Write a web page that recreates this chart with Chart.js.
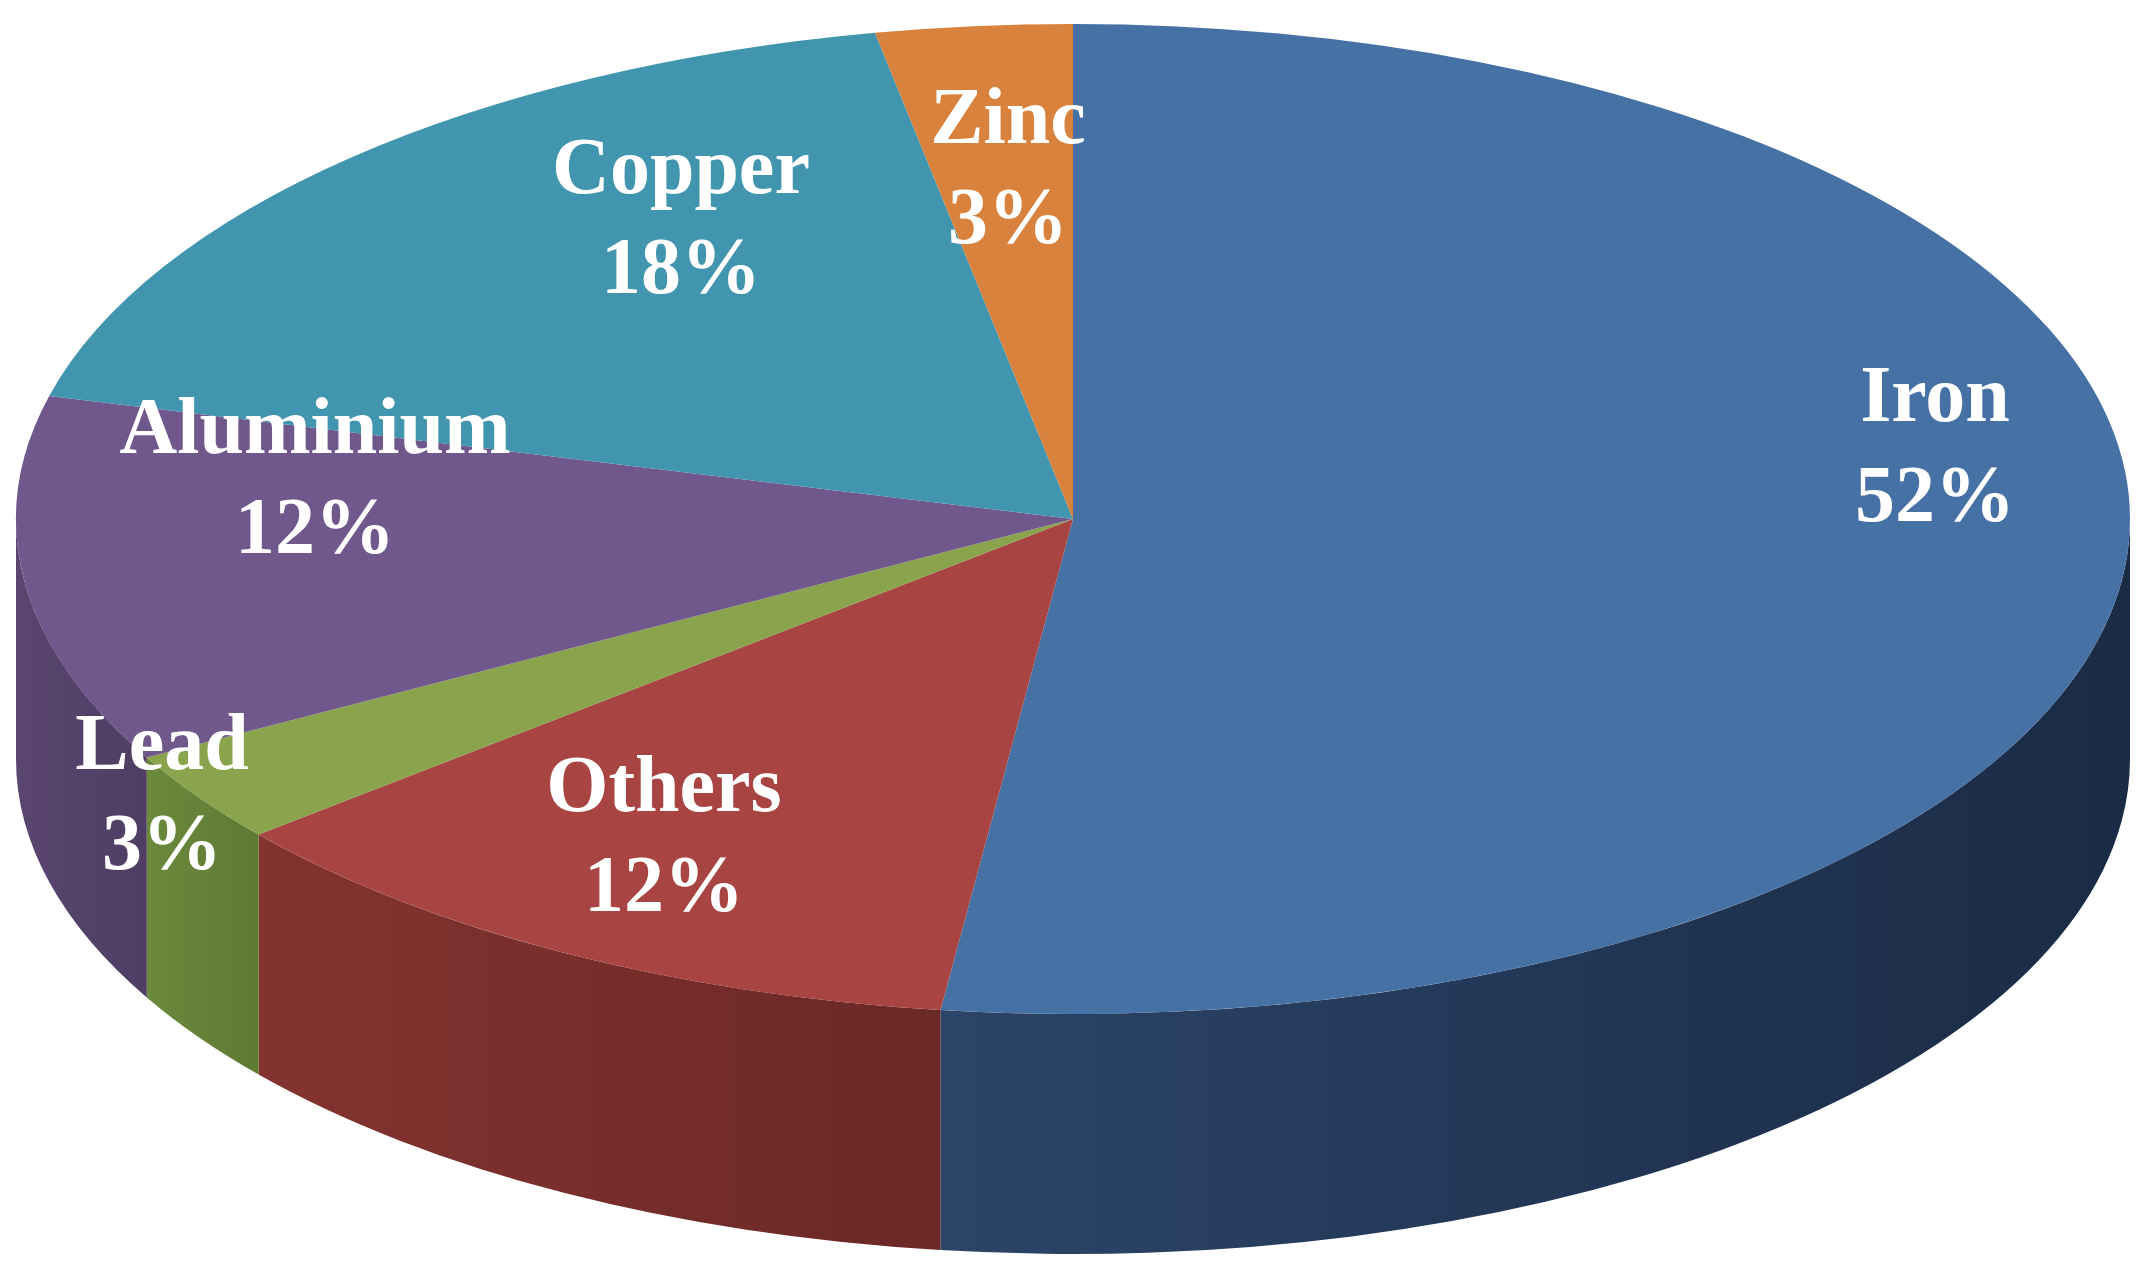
<!DOCTYPE html>
<html><head><meta charset="utf-8">
<script src="https://cdn.jsdelivr.net/npm/chart.js@4"></script>
<style>html,body{margin:0;padding:0;background:#fff;}canvas{display:block;}</style>
</head><body>
<canvas id="c" width="2148" height="1287"></canvas>
<script>
const categories = ["Iron","Others","Lead","Aluminium","Copper","Zinc"];
const values = [52,12,3,12,18,3];
const colors = ["#4671A5","#A84441","#89A44C","#70578C","#4195AE","#D9823D"];
const sideColors = [["#2b4468","#1a2b45"],["#83332f","#6a2826"],["#6b8a3c","#5e7a33"],["#5a4670","#4f3d63"],["#2f7286","#2a6475"],["#a8612c","#8f5226"]];
const labelPos = [[1935,400],[664,790],[162,748],[315,432],[681,172],[1008,122]];

const CX=1073, CY=519, RX=1057, RY=495, DEPTH=240;

const pie3d = {
  id:'pie3d',
  beforeDatasetsDraw(chart){
    const ctx=chart.ctx, meta=chart.getDatasetMeta(0), a0=meta.data[0];
    const r=a0.outerRadius, sx=RX/r, sy=RY/r;
    ctx.save();
    ctx.translate(CX,CY); ctx.scale(sx,sy); ctx.translate(-a0.x,-a0.y);
    const d=DEPTH/sy;
    meta.data.forEach((arc,i)=>{
      let s=arc.startAngle, e=arc.endAngle;
      const lo=Math.max(s,0), hi=Math.min(e,Math.PI);
      if(hi<=lo) return;
      const g=ctx.createLinearGradient(arc.x+r*Math.cos(hi),0,arc.x+r*Math.cos(lo),0);
      g.addColorStop(0,sideColors[i][0]); g.addColorStop(1,sideColors[i][1]);
      ctx.beginPath();
      ctx.arc(arc.x,arc.y,r,lo,hi,false);
      ctx.lineTo(arc.x+r*Math.cos(hi),arc.y+r*Math.sin(hi)+d);
      ctx.arc(arc.x,arc.y+d,r,hi,lo,true);
      ctx.closePath();
      ctx.fillStyle=g; ctx.fill();
    });
  },
  afterDatasetsDraw(chart){
    const ctx=chart.ctx;
    ctx.restore();
    ctx.save();
    ctx.fillStyle="#fff";
    ctx.font="bold 80px 'Liberation Serif', 'DejaVu Serif', serif";
    ctx.textAlign="center"; ctx.textBaseline="middle";
    categories.forEach((c,i)=>{
      const [x,y]=labelPos[i];
      ctx.fillText(c,x,y);
      ctx.fillText(values[i]+"%",x,y+100);
    });
    ctx.restore();
  }
};

new Chart(document.getElementById('c'),{
  type:'pie',
  data:{labels:categories,datasets:[{data:values,backgroundColor:colors,borderWidth:0}]},
  options:{responsive:false,devicePixelRatio:1,animation:false,
    plugins:{legend:{display:false},tooltip:{enabled:false}}},
  plugins:[pie3d]
});
</script>
</body></html>
